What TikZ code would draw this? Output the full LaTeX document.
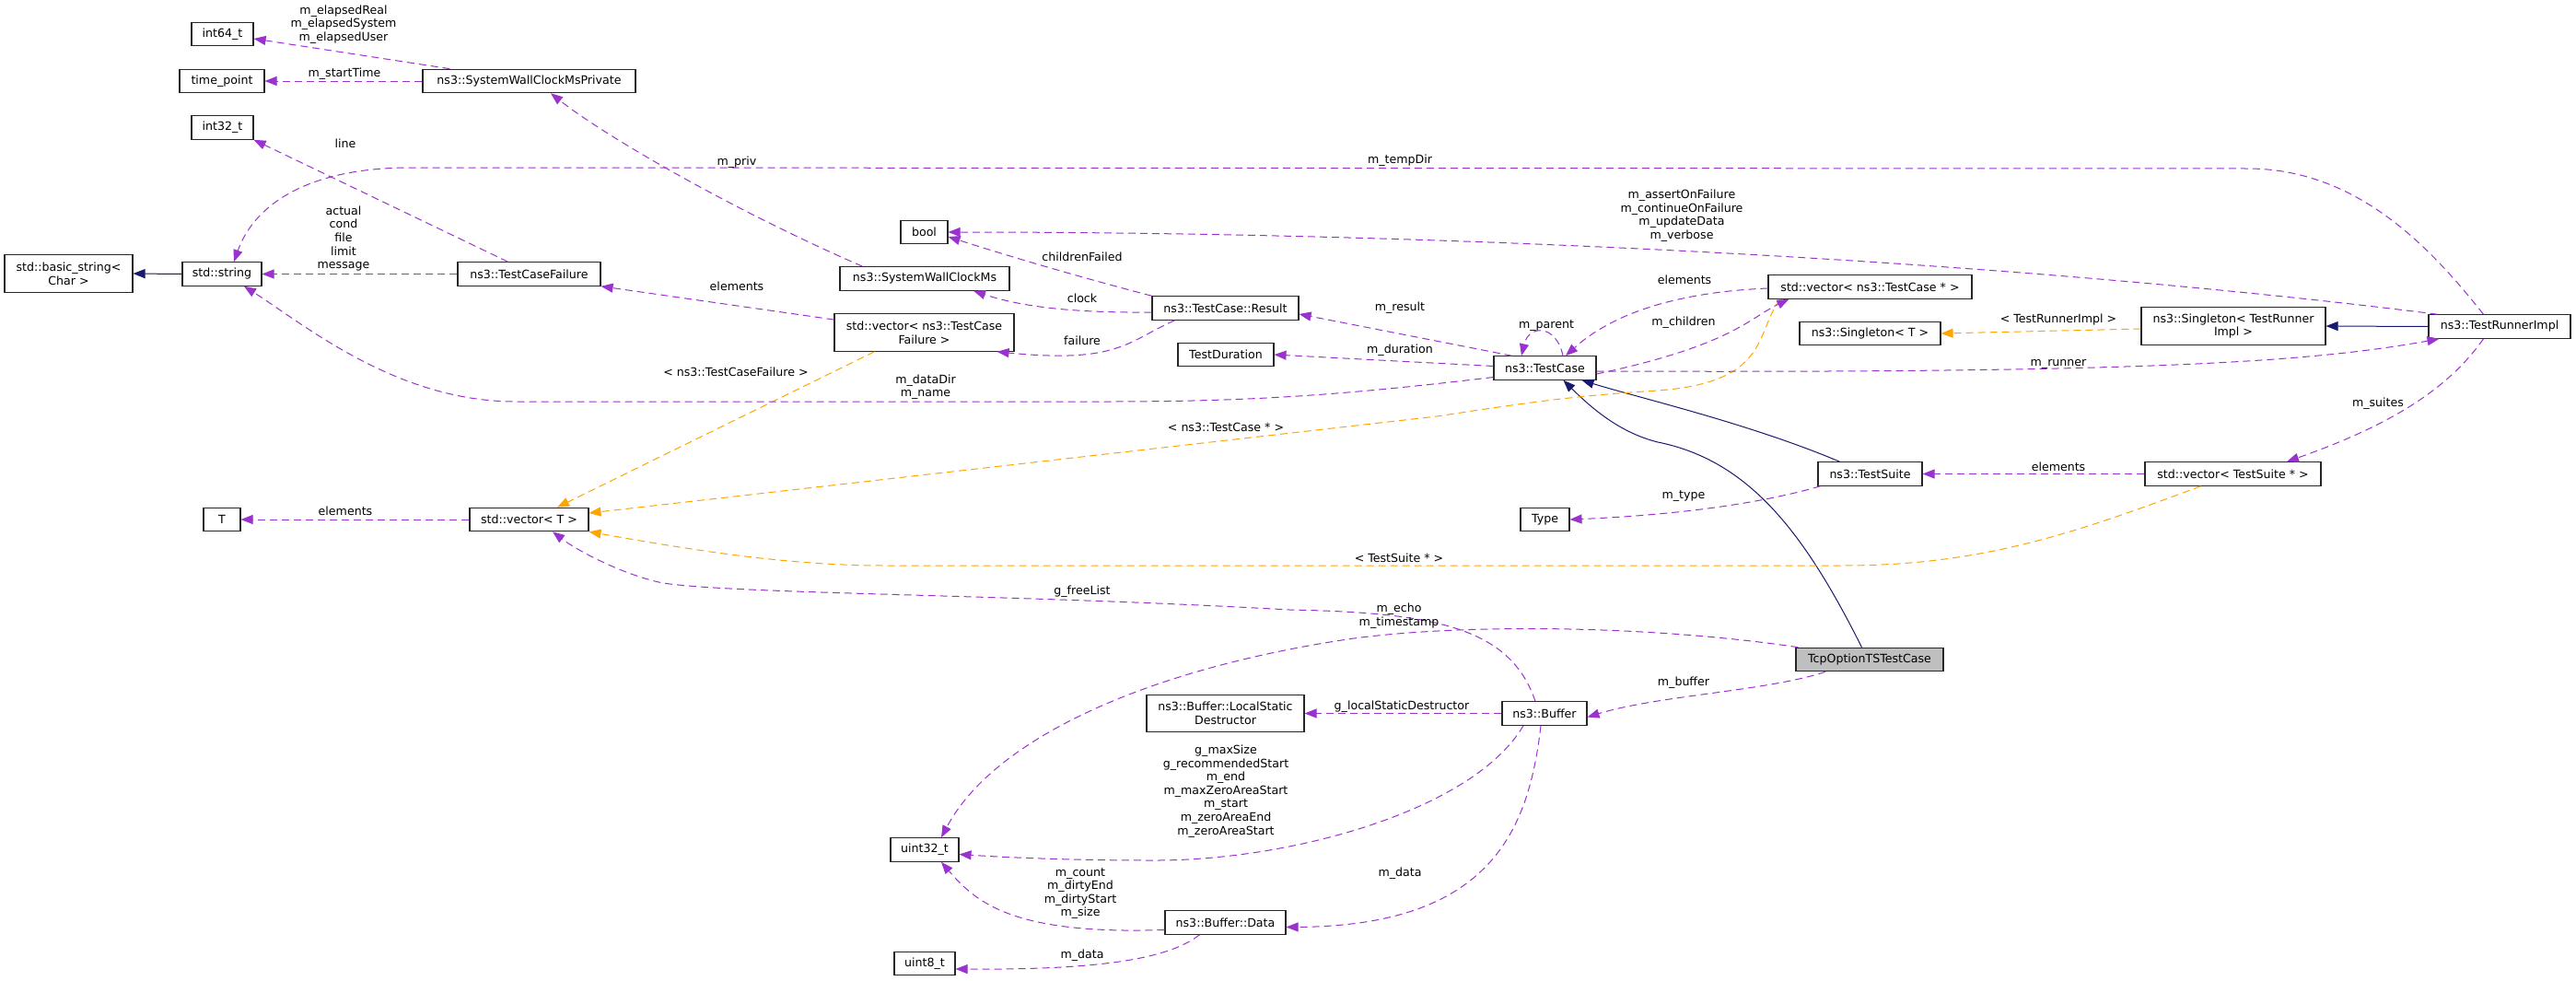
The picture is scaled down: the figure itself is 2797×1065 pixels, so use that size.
\documentclass[tikz,border=0pt]{standalone}
\usepackage{fontspec}
\setmainfont{DejaVu Sans}
\usetikzlibrary{arrows.meta}
\definecolor{memcol}{HTML}{9A32CD}
\definecolor{tplcol}{HTML}{FFA500}
\definecolor{inhcol}{HTML}{191970}

\begin{document}
\begin{tikzpicture}[x=1pt, y=-1pt, font=\fontsize{12.6}{14.6}\selectfont,
		cls/.style={draw=black!85, line width=1.1pt, fill=white, inner sep=0pt, minimum height=25.5, align=center},
		cls2/.style={cls, minimum height=40.5},
		lbl/.style={inner sep=0pt, align=center},
		uses/.style={draw=memcol, line width=1pt, dash pattern=on 8pt off 5pt, -{Triangle[length=13pt,width=10pt]}},
		inst/.style={uses, draw=tplcol},
		inh/.style={draw=inhcol, line width=1pt, -{Triangle[length=13pt,width=10pt]}}]
			\fill[white] (0,0) rectangle (2797,1065);
			\useasboundingbox (0,0) rectangle (2797,1065);
			% classes
			\node (i64) [cls, minimum width=67] at (241.5,37){int64\_t};
			\node (tp) [cls, minimum width=92] at (241,88){time\_point};
			\node (swp) [cls, minimum width=231] at (574.5,88){ns3::SystemWallClockMsPrivate};
			\node (i32) [cls, minimum width=67] at (241.5,138.5){int32\_t};
			\node (bs) [cls2, minimum width=139] at (74.5,297){std::basic\_string<\\Char >};
			\node (str) [cls, minimum width=86] at (241,297.5){std::string};
			\node (tcf) [cls, minimum width=155] at (574.5,297.5){ns3::TestCaseFailure};
			\node (bl) [cls, minimum width=51] at (1003.5,252){bool};
			\node (sw) [cls, minimum width=184] at (1004,302.5){ns3::SystemWallClockMs};
			\node (vtcf) [cls2, minimum width=195] at (1003.5,361){std::vector< ns3::TestCase\\Failure >};
			\node (res) [cls, minimum width=159] at (1330.5,334.5){ns3::TestCase::Result};
			\node (dur) [cls, minimum width=104] at (1331,385){TestDuration};
			\node (tc) [cls, minimum width=111] at (1677.5,399.5){ns3::TestCase};
			\node (vtc) [cls, minimum width=221] at (2030.5,311.5){std::vector< ns3::TestCase * >};
			\node (sgT) [cls, minimum width=153] at (2030.5,362){ns3::Singleton< T >};
			\node (sgR) [cls2, minimum width=200] at (2425,354){ns3::Singleton< TestRunner\\Impl >};
			\node (tri) [cls, minimum width=154] at (2714,354.5){ns3::TestRunnerImpl};
			\node (ts) [cls, minimum width=113] at (2030.5,514.5){ns3::TestSuite};
			\node (ty) [cls, minimum width=53] at (1677.5,564){Type};
			\node (vts) [cls, minimum width=191] at (2424.5,514.5){std::vector< TestSuite * >};
			\node (T) [cls, minimum width=40] at (241,564){T};
			\node (vT) [cls, minimum width=129] at (574.5,564){std::vector< T >};
			\node (tcp) [cls, minimum width=160, fill=black!25] at (2030,716){TcpOptionTSTestCase};
			\node (buf) [cls, minimum width=92] at (1677,774.5){ns3::Buffer};
			\node (lsd) [cls2, minimum width=171] at (1330.5,774.5){ns3::Buffer::LocalStatic\\Destructor};
			\node (u32) [cls, minimum width=74] at (1004,922.5){uint32\_t};
			\node (bd) [cls, minimum width=131] at (1330.5,1001.5){ns3::Buffer::Data};
			\node (u8) [cls, minimum width=66] at (1004,1046){uint8\_t};
			
			% inheritance
			\draw[inh] (str.west)--(bs.east);
			\draw[inh] (tri.west)--(sgR.east);
			\draw[inh] ([xshift=-33pt]ts.north) .. controls (1900,460) and (1780,432) .. ([xshift=40pt]tc.south);
			\draw[inh] ([xshift=72pt]tcp.north west) .. controls (1960,580) and (1900,500) .. (1800,480) .. controls (1760,470) and (1730,445) .. ([xshift=20pt]tc.south);
			
			% template instances
			\draw[inst] ([xshift=44pt]vtcf.south west)--([xshift=30.5pt]vT.north);
			\draw[inst] ([xshift=13pt]vtc.south west) .. controls (1905,365) and (1920,415) .. (1800,424) .. controls (1700,430) and (1640,440) .. (1560,452)--([yshift=7pt]vT.east);
			\draw[inst] ([xshift=-35pt]vts.south) .. controls (2250,580) and (2150,614) .. (2000,614)--(960,614) .. controls (850,614) and (740,595) .. (vT.south east);
			\draw[inst] ([yshift=-3pt]sgR.west)--(sgT.east);
			
			% members
			\draw[uses] ([xshift=30pt]swp.north west)--([yshift=-5pt]i64.east);
			\draw[uses] (swp.west)--(tp.east);
			\draw[uses] ([xshift=55pt]tcf.north west)--(i32.south east);
			\draw[uses] (tcf.west)--(str.east);
			\draw[uses] ([xshift=60pt]tri.north west) .. controls (2640,270) and (2560,183) .. (2440,183)--(446,182) .. controls (330,182) and (275,225) .. ([xshift=13pt]str.north);
			\draw[uses] ([xshift=25pt]sw.north west) .. controls (800,230) and (660,150) .. ([xshift=23.5pt]swp.south);
			\draw[uses] ([yshift=14pt]vtcf.west)--(tcf.south east);
			\draw[uses] (res.north west) .. controls (1150,295) and (1070,270) .. ([yshift=-5pt]bl.east);
			\draw[uses] ([yshift=-4.5pt]res.west) .. controls (1150,340) and (1100,330) .. ([xshift=53pt]sw.south);
			\draw[uses] ([xshift=25pt]res.south west) .. controls (1225,370) and (1215,395) .. ([xshift=-19pt]vtcf.south east);
			\draw[uses] ([xshift=10pt]tri.north west) .. controls (2200,285) and (1600,252) .. (bl.east);
			\draw[uses] ([xshift=20pt]tc.north west)--([yshift=-6.5pt]res.east);
			\draw[uses] ([yshift=2pt]tc.west)--(dur.east);
			\draw[uses] ([yshift=-10pt]tc.west) .. controls (1450,430) and (1350,436) .. (1200,436)--(560,436) .. controls (430,436) and (330,352) .. ([xshift=24pt]str.south);
			\draw[uses] ([xshift=19.5pt]tc.north) .. controls (1690,352) and (1660,352) .. ([xshift=-25.5pt]tc.north);
			\draw[uses] ([yshift=-1.5pt]vtc.west) .. controls (1800,318) and (1740,350) .. ([xshift=22.5pt]tc.north);
			\draw[uses] ([yshift=-6.5pt]tc.east) .. controls (1880,375) and (1900,345) .. ([xshift=23pt]vtc.south west);
			\draw[uses] ([yshift=-3.5pt]tc.east) .. controls (2300,405) and (2500,395) .. ([xshift=12pt]tri.south west);
			\draw[uses] ([xshift=60pt]tri.south west) .. controls (2660,420) and (2600,460) .. ([xshift=58.5pt]vts.north);
			\draw[uses] (vts.west)--(ts.east);
			\draw[uses] ([xshift=3pt]ts.south west) .. controls (1900,550) and (1800,560) .. (ty.east);
			\draw[uses] (vT.west)--(T.east);
			\draw[uses] ([xshift=-10pt]buf.north) .. controls (1640,682) and (1560,665) .. (1400,662) .. controls (1100,645) and (800,645) .. (720,633) .. controls (680,625) and (630,600) .. ([xshift=25.5pt]vT.south);
			\draw[uses] ([xshift=3pt]tcp.north west) .. controls (1800,680) and (1600,676) .. (1470,693) .. controls (1250,725) and (1080,800) .. ([xshift=18pt]u32.north);
			\draw[uses] ([xshift=-48pt]tcp.south) .. controls (1920,750) and (1800,755) .. ([yshift=-4pt]buf.east);
			\draw[uses] (buf.west)--(lsd.east);
			\draw[uses] ([xshift=-23pt]buf.south) .. controls (1600,880) and (1400,935) .. (1250,934) .. controls (1150,934) and (1080,930) .. ([yshift=-5pt]u32.east);
			\draw[uses] ([xshift=-4pt]buf.south) .. controls (1660,900) and (1620,1005) .. ([yshift=-5pt]bd.east);
			\draw[uses] ([yshift=-8pt]bd.west) .. controls (1100,1015) and (1060,980) .. ([xshift=18pt]u32.south);
			\draw[uses] ([xshift=-28pt]bd.south) .. controls (1270,1040) and (1200,1053) .. ([yshift=-6pt]u8.east);
			
			% labels
			\node (l1) [lbl] at (373,26.5){m\_elapsedReal\\m\_elapsedSystem\\m\_elapsedUser};
			\node (l2) [lbl] at (374,80){m\_startTime};
			\node (l3) [lbl] at (375,156){line};
			\node (l4) [lbl] at (373,259){actual\\cond\\file\\limit\\message};
			\node (l5) [lbl] at (1520,174){m\_tempDir};
			\node (l6) [lbl] at (800,176){m\_priv};
			\node (l7) [lbl] at (800,311){elements};
			\node (l8) [lbl] at (1175,279){childrenFailed};
			\node (l9) [lbl] at (1175,324){clock};
			\node (l10) [lbl] at (1175,370){failure};
			\node (l11) [lbl] at (1826,234){m\_assertOnFailure\\m\_continueOnFailure\\m\_updateData\\m\_verbose};
			\node (l12) [lbl] at (1520,334){m\_result};
			\node (l13) [lbl] at (1520,380){m\_duration};
			\node (l14) [lbl] at (1005,420){m\_dataDir\\m\_name};
			\node (l15) [lbl] at (1679,354){m\_parent};
			\node (l16) [lbl] at (1829,304){elements};
			\node (l17) [lbl] at (1828,350){m\_children};
			\node (l18) [lbl] at (2235,395){m\_runner};
			\node (l19) [lbl] at (2582,438){m\_suites};
			\node (l20) [lbl] at (2235,507){elements};
			\node (l21) [lbl] at (1828,539){m\_type};
			\node (l22) [lbl] at (375,555){elements};
			\node (l23) [lbl] at (1175,642){g\_freeList};
			\node (l24) [lbl] at (1519,668.5){m\_echo\\m\_timestamp};
			\node (l25) [lbl] at (1828,741){m\_buffer};
			\node (l26) [lbl] at (1522,767){g\_localStaticDestructor};
			\node (l27) [lbl] at (1331,859){g\_maxSize\\g\_recommendedStart\\m\_end\\m\_maxZeroAreaStart\\m\_start\\m\_zeroAreaEnd\\m\_zeroAreaStart};
			\node (l28) [lbl] at (1520,948){m\_data};
			\node (l29) [lbl] at (1173,970){m\_count\\m\_dirtyEnd\\m\_dirtyStart\\m\_size};
			\node (l30) [lbl] at (1175,1037){m\_data};
			\node (l31) [lbl] at (799,404){< ns3::TestCaseFailure >};
			\node (l32) [lbl] at (1331,464){< ns3::TestCase * >};
			\node (l33) [lbl] at (1519,606){< TestSuite * >};
			\node (l34) [lbl] at (2235,347){< TestRunnerImpl >};
		\end{tikzpicture}
\end{document}
